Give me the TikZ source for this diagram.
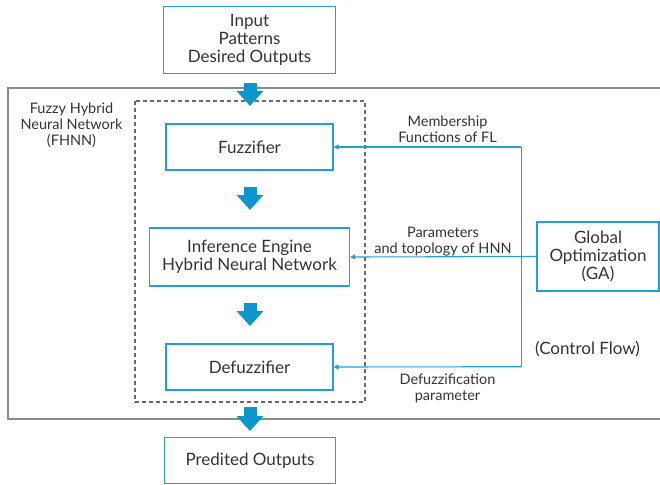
\documentclass[tikz,border=0pt]{standalone}
\usepackage{fontspec}
\setmainfont{Lato}
\usetikzlibrary{arrows.meta}
\definecolor{boxblue}{HTML}{22A0DA}
\definecolor{fatblue}{HTML}{0A96CE}
\definecolor{txt}{HTML}{333333}
\definecolor{outergray}{HTML}{8A8A8A}
\definecolor{dashgray}{HTML}{6A6A6A}
\tikzset{
  box/.style={draw=boxblue, line width=1.2pt, text=txt, font=\fontsize{17}{18}\selectfont, align=center, inner sep=0pt},
  lbl/.style={text=txt, font=\fontsize{14.5}{16}\selectfont, align=center, inner sep=0pt},
  fat/.style={draw=fatblue, line width=13pt, -{Triangle[width=26pt,length=15pt]}, fatblue},
  ctrl/.style={draw=boxblue, line width=1.1pt, -{Triangle[width=5pt,length=5pt]}},
}
\begin{document}
\begin{tikzpicture}[x=1pt,y=-1pt]
\useasboundingbox (0,0) rectangle (660,484);
% outer solid frame (open to the right edge)
\draw[outergray, line width=1.4pt] (662,88) -- (8,88) -- (8,419) -- (662,419);
% dashed frame
\draw[dashgray, line width=1.1pt, dash pattern=on 4pt off 3pt] (135,101) rectangle (365,402);
% boxes
\node[box, minimum width=172pt, minimum height=67pt] (inp) at (249.5,40) {Input\\Patterns\\Desired Outputs};
\node[box, minimum width=167pt, minimum height=46pt] (fuzz) at (249.5,147) {Fuzzifier};
\node[box, minimum width=200pt, minimum height=58pt] (inf) at (249.5,257) {Inference Engine\\Hybrid Neural Network};
\node[box, minimum width=167pt, minimum height=46pt] (defuzz) at (249.5,367) {Defuzzifier};
\node[box, minimum width=171pt, minimum height=46pt] (out) at (250,460.5) {Predited Outputs};
\node[box, minimum width=122pt, minimum height=69pt] (ga) at (598,256.5) {Global\\Optimization\\(GA)};
% labels
\node[lbl] (fhnn) at (71.5,125) {Fuzzy Hybrid\\Neural Network\\(FHNN)};
\node[lbl] (lmem) at (447.5,129) {Membership\\Functions of FL};
\node[lbl] (lpar) at (443,242) {Parameters\\and topology of HNN};
\node[lbl] (ldef) at (447.5,388) {Defuzzification\\parameter};
\node[box, draw=none] (cf) at (587.5,349) {(Control Flow)};
% fat flow arrows
\coordinate (a1) at (250,83);  \coordinate (b1) at (250,106);
\coordinate (a2) at (250,187); \coordinate (b2) at (250,210);
\coordinate (a3) at (250,303); \coordinate (b3) at (250,326);
\coordinate (a4) at (250,407); \coordinate (b4) at (250,431);
\draw[fat] (a1) -- (b1);
\draw[fat] (a2) -- (b2);
\draw[fat] (a3) -- (b3);
\draw[fat] (a4) -- (b4);
% control flow
\coordinate (bus) at (521.3,147);
\coordinate (busb) at (521.3,366.7);
\draw[boxblue, line width=1.1pt] (bus) -- (busb);
\draw[ctrl] (bus) -- (fuzz.east);
\draw[ctrl] (ga.west) -- (inf.east);
\draw[ctrl] (busb) -- (defuzz.east);
\end{tikzpicture}
\end{document}
